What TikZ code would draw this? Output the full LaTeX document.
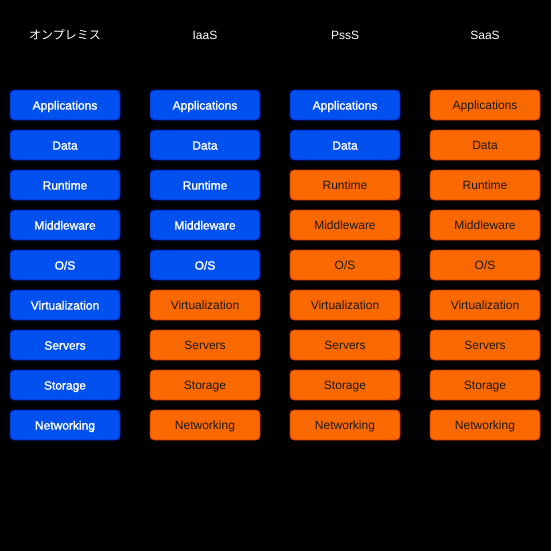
\documentclass[tikz,border=0pt]{standalone}
\usepackage{fontspec}
\setmainfont{Liberation Sans}
\newfontfamily\fakeboldfont[FakeBold=1.6]{Liberation Sans}
\newfontfamily\jpfont{Noto Sans CJK JP}
\definecolor{bluefill}{HTML}{0050EF}
\definecolor{bluedraw}{HTML}{001DBC}
\definecolor{orfill}{HTML}{FA6800}
\definecolor{ordraw}{HTML}{C73500}
\begin{document}
\begin{tikzpicture}[x=1pt,y=-1pt,
  cell/.style={rounded corners=4pt,minimum width=110pt,minimum height=30pt,inner sep=0pt,text height=10.2pt,text depth=1pt,line width=0.8pt},
  bluecell/.style={cell,fill=bluefill,draw=bluedraw,text=white,font=\fontsize{12}{14}\fakeboldfont},
  orcell/.style={cell,fill=orfill,draw=ordraw,text=black!90,font=\fontsize{12}{14}\selectfont},
  head/.style={text=white,inner sep=0pt,text height=10.2pt,text depth=1pt,font=\fontsize{12}{14}\selectfont}]
\fill[black] (0,0) rectangle (551,551);
\useasboundingbox (0,0) rectangle (551,551);
\node[head] (h1) at (65,35) {\jpfont オンプレミス};
\node[head] (h2) at (205,35) {IaaS};
\node[head] (h3) at (345,35) {PssS};
\node[head] (h4) at (485,35) {SaaS};
\foreach \name [count=\i] in {Applications,Data,Runtime,Middleware,O/S,Virtualization,Servers,Storage,Networking}{
  \pgfmathsetmacro{\yy}{65+40*\i}
  \node[bluecell] (a\i) at (65,\yy) {\name};
  \ifnum\i<6
    \node[bluecell] (b\i) at (205,\yy) {\name};
  \else
    \node[orcell] (b\i) at (205,\yy) {\name};
  \fi
  \ifnum\i<3
    \node[bluecell] (c\i) at (345,\yy) {\name};
  \else
    \node[orcell] (c\i) at (345,\yy) {\name};
  \fi
  \node[orcell] (d\i) at (485,\yy) {\name};
}
\end{tikzpicture}
\end{document}
